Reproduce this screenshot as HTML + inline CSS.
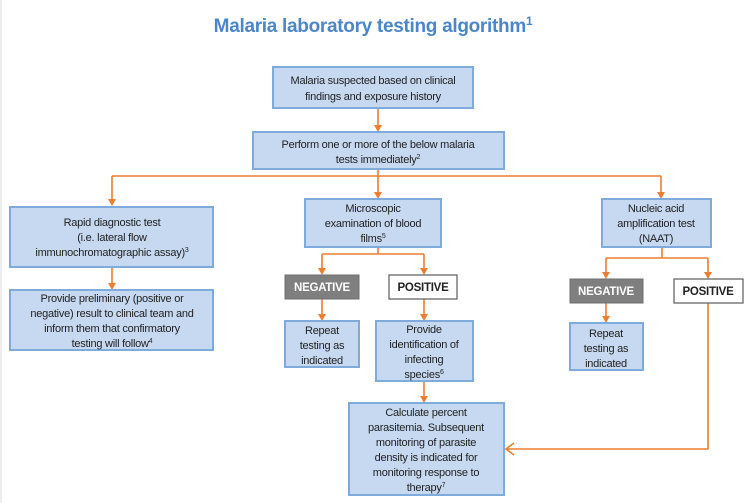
<!DOCTYPE html>
<html><head><meta charset="utf-8"><style>
html,body{margin:0;padding:0;background:#fff;}
svg{display:block;}
text{font-family:"Liberation Sans",sans-serif;font-size:11px;fill:#222;letter-spacing:-0.25px;}
.t{font-size:19px;font-weight:bold;fill:#4a86c8;letter-spacing:-0.3px;}
.b{fill:#c6d9f1;stroke:#7fabdc;stroke-width:2;}
.o{stroke:#ed7d31;stroke-width:1.6;fill:none;}
.bw{font-weight:bold;font-size:11.5px;}
</style></head><body>
<svg width="755" height="503" viewBox="0 0 755 503">
<defs><marker id="a" markerWidth="8" markerHeight="8" refX="4" refY="6" orient="auto" markerUnits="userSpaceOnUse" viewBox="0 0 8 8"><path d="M0,0 L8,0 L4,7 z" fill="#ed7d31" transform="rotate(0)"/></marker></defs>
<line x1="1" y1="0" x2="1" y2="503" stroke="#ddd"/>
<text class="t" x="373" y="32" text-anchor="middle">Malaria laboratory testing algorithm<tspan font-size="12" dy="-7">1</tspan></text>

<g class="o">
<path d="M378,108 V126"/>
<path d="M378,169 V176 M112,176 H661 M112,176 V200 M378,176 V193 M661,176 V193"/>
<path d="M378,247 V254 M322,254 H424 M322,254 V270 M424,254 V270"/>
<path d="M322,299 V316 M424,299 V316 M424,381 V398"/>
<path d="M112,267 V285"/>
<path d="M662,247 V258 M606,258 H708 M606,258 V274 M708,258 V274 M606,303 V318"/>
<path d="M708,303 V449 H506"/>
<path d="M514,443 L506,449 L514,455"/>
</g>
<g fill="#ed7d31">
<path d="M374,125 L382,125 L378,132 z"/>
<path d="M108,199 L116,199 L112,206 z"/>
<path d="M374,192 L382,192 L378,199 z"/>
<path d="M657,192 L665,192 L661,199 z"/>
<path d="M318,268 L326,268 L322,275 z"/>
<path d="M420,268 L428,268 L424,275 z"/>
<path d="M318,314 L326,314 L322,321 z"/>
<path d="M420,314 L428,314 L424,321 z"/>
<path d="M420,396 L428,396 L424,403 z"/>
<path d="M108,283 L116,283 L112,290 z"/>
<path d="M602,272 L610,272 L606,279 z"/>
<path d="M704,272 L712,272 L708,279 z"/>
<path d="M602,316 L610,316 L606,323 z"/>
</g>

<rect class="b" x="273" y="67" width="200" height="41"/>
<text x="373" y="84" text-anchor="middle">Malaria suspected based on clinical</text>
<text x="373" y="100" text-anchor="middle">findings and exposure history</text>

<rect class="b" x="253" y="132" width="251" height="37"/>
<text x="378" y="148" text-anchor="middle">Perform one or more of the below malaria</text>
<text x="378" y="163" text-anchor="middle">tests immediately<tspan font-size="7" dy="-4">2</tspan></text>

<rect class="b" x="10" y="207" width="203" height="60"/>
<text x="112" y="226" text-anchor="middle">Rapid diagnostic test</text>
<text x="112" y="241" text-anchor="middle">(i.e. lateral flow</text>
<text x="112" y="256" text-anchor="middle">immunochromatographic assay)<tspan font-size="7" dy="-4">3</tspan></text>

<rect class="b" x="10" y="290" width="203" height="60"/>
<text x="112" y="302" text-anchor="middle">Provide preliminary (positive or</text>
<text x="112" y="317" text-anchor="middle">negative) result to clinical team and</text>
<text x="112" y="332" text-anchor="middle">inform them that confirmatory</text>
<text x="112" y="347" text-anchor="middle">testing will follow<tspan font-size="7" dy="-4">4</tspan></text>

<rect class="b" x="305" y="199" width="136" height="48"/>
<text x="373" y="212" text-anchor="middle">Microscopic</text>
<text x="373" y="227" text-anchor="middle">examination of blood</text>
<text x="373" y="242" text-anchor="middle">films<tspan font-size="7" dy="-4">5</tspan></text>

<rect class="b" x="602" y="199" width="109" height="48"/>
<text x="656" y="212" text-anchor="middle">Nucleic acid</text>
<text x="656" y="227" text-anchor="middle">amplification test</text>
<text x="656" y="242" text-anchor="middle">(NAAT)</text>

<rect x="285" y="275" width="74" height="24" fill="#7f7f7f" stroke="#6f6f6f"/>
<text x="322" y="291" text-anchor="middle" class="bw" style="fill:#fff">NEGATIVE</text>
<rect x="389" y="275" width="68" height="24" fill="#fff" stroke="#666" stroke-width="1.3"/>
<text x="423" y="291" text-anchor="middle" class="bw">POSITIVE</text>

<rect x="570" y="279" width="73" height="24" fill="#7f7f7f" stroke="#6f6f6f"/>
<text x="606" y="295" text-anchor="middle" class="bw" style="fill:#fff">NEGATIVE</text>
<rect x="674" y="279" width="69" height="24" fill="#fff" stroke="#666" stroke-width="1.3"/>
<text x="708" y="295" text-anchor="middle" class="bw">POSITIVE</text>

<rect class="b" x="285" y="321" width="74" height="46"/>
<text x="322" y="334" text-anchor="middle">Repeat</text>
<text x="322" y="349" text-anchor="middle">testing as</text>
<text x="322" y="364" text-anchor="middle">indicated</text>

<rect class="b" x="570" y="323" width="73" height="47"/>
<text x="606" y="337" text-anchor="middle">Repeat</text>
<text x="606" y="352" text-anchor="middle">testing as</text>
<text x="606" y="367" text-anchor="middle">indicated</text>

<rect class="b" x="376" y="321" width="97" height="60"/>
<text x="424" y="333" text-anchor="middle">Provide</text>
<text x="424" y="348" text-anchor="middle">identification of</text>
<text x="424" y="363" text-anchor="middle">infecting</text>
<text x="424" y="378" text-anchor="middle">species<tspan font-size="7" dy="-4">6</tspan></text>

<rect class="b" x="349" y="403" width="155" height="92"/>
<text x="426" y="416" text-anchor="middle">Calculate percent</text>
<text x="426" y="431" text-anchor="middle">parasitemia. Subsequent</text>
<text x="426" y="446" text-anchor="middle">monitoring of parasite</text>
<text x="426" y="461" text-anchor="middle">density is indicated for</text>
<text x="426" y="476" text-anchor="middle">monitoring response to</text>
<text x="426" y="491" text-anchor="middle">therapy<tspan font-size="7" dy="-4">7</tspan></text>
</svg>
</body></html>
